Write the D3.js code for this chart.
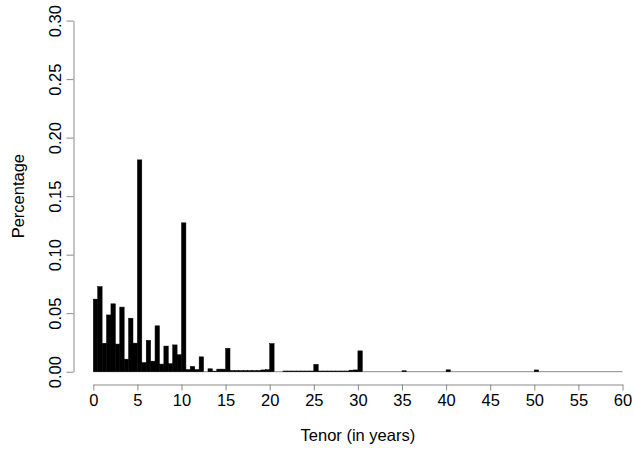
<!DOCTYPE html>
<html>
<head>
<meta charset="utf-8">
<script src="https://cdn.jsdelivr.net/npm/d3@7"></script>
<style>
  body { margin: 0; background: #fff; }
  svg { display: block; font-family: "Liberation Sans", Arial, sans-serif; }
</style>
</head>
<body>
<div id="chart"></div>
<script>
// histogram of tenors, bins of half a year (lower edge -> share)
const binWidth = 0.5
const binStart = [
  0, 0.5, 1, 1.5, 2, 2.5, 3, 3.5, 4, 4.5,
  5, 5.5, 6, 6.5, 7, 7.5, 8, 8.5, 9, 9.5,
  10, 10.5, 11, 11.5, 12, 13, 13.5, 14, 14.5, 15,
  15.5, 16, 16.5, 17, 17.5, 18, 18.5, 19, 19.5, 20,
  21.5, 22, 22.5, 23, 23.5, 24, 24.5, 25,
  25.5, 26, 26.5, 27, 27.5, 28, 28.5, 29, 29.5, 30,
  35, 40, 50
]
const share = [
  0.0620, 0.0727, 0.0243, 0.0485, 0.0580, 0.0236, 0.0552, 0.0107, 0.0457, 0.0244,
  0.1810, 0.0078, 0.0268, 0.0090, 0.0392, 0.0065, 0.0219, 0.0068, 0.0229, 0.0145,
  0.1272, 0.0018, 0.0045, 0.0018, 0.0127, 0.0025, 0.0005, 0.0022, 0.0022, 0.0200,
  0.0010, 0.0010, 0.0010, 0.0010, 0.0010, 0.0010, 0.0010, 0.0015, 0.0017, 0.0240,
  0.0006, 0.0006, 0.0006, 0.0006, 0.0006, 0.0006, 0.0006, 0.0063,
  0.0006, 0.0006, 0.0006, 0.0006, 0.0006, 0.0006, 0.0006, 0.0013, 0.0015, 0.0178,
  0.0008, 0.0016, 0.0015
]
const xTicks = [0, 5, 10, 15, 20, 25, 30, 35, 40, 45, 50, 55, 60]
const yTicks = [0, 0.05, 0.10, 0.15, 0.20, 0.25, 0.30]

const width = 633
const height = 451

const x = d3.scaleLinear().domain([0, 60]).range([93.3, 622.5])
const y = d3.scaleLinear().domain([0, 0.30]).range([371.7, 20.6])

const bins = binStart.map((b, i) => ({ x0: b, x1: b + binWidth, v: share[i] }))

const svg = d3.select("#chart")
  .append("svg")
    .attr("width", width)
    .attr("height", height)

// baseline drawn by the empty bins
svg.append("line")
    .attr("x1", x(0)).attr("x2", x(60))
    .attr("y1", y(0)).attr("y2", y(0))
    .attr("stroke", "#8a8a8a")
    .attr("stroke-width", 1)

svg.append("g")
  .selectAll("rect")
  .data(bins)
  .join("rect")
    .attr("x", d => x(d.x0))
    .attr("width", d => x(d.x1) - x(d.x0))
    .attr("y", d => y(d.v))
    .attr("height", d => y(0) - y(d.v))
    .attr("fill", "#000")
    .attr("stroke", "#000")
    .attr("stroke-width", 0.5)

// x axis
const xAxis = svg.append("g")
    .attr("transform", "translate(0,384.5)")
    .call(d3.axisBottom(x).tickValues(xTicks).tickFormat(d3.format("d")).tickSize(6).tickSizeOuter(0))
xAxis.select(".domain").attr("stroke", "#8a8a8a")
xAxis.selectAll(".tick line").attr("stroke", "#8a8a8a")
xAxis.selectAll(".tick text")
    .attr("y", 10)
    .attr("dy", "0.71em")
    .attr("fill", "#000")
    .style("font-size", "16.5px")
    .style("font-family", "'Liberation Sans', Arial, sans-serif")

// y axis
const yAxis = svg.append("g")
    .attr("transform", "translate(73.5,0)")
    .call(d3.axisLeft(y).tickValues(yTicks).tickFormat(d3.format(".2f")).tickSize(7).tickSizeOuter(0))
yAxis.select(".domain").attr("stroke", "#8a8a8a")
yAxis.selectAll(".tick line").attr("stroke", "#8a8a8a")
yAxis.selectAll(".tick text")
    .attr("x", null).attr("dy", null)
    .attr("text-anchor", "middle")
    .attr("transform", "translate(-12.5,0) rotate(-90)")
    .attr("fill", "#000")
    .style("font-size", "16.5px")
    .style("font-family", "'Liberation Sans', Arial, sans-serif")

svg.append("text")
    .attr("x", (x(0) + x(60)) / 2)
    .attr("y", 441)
    .attr("text-anchor", "middle")
    .style("font-size", "16.5px")
    .text("Tenor (in years)")

svg.append("text")
    .attr("transform", `translate(23.5,${(y(0) + y(0.30)) / 2}) rotate(-90)`)
    .attr("text-anchor", "middle")
    .style("font-size", "16.5px")
    .text("Percentage")
</script>
</body>
</html>
